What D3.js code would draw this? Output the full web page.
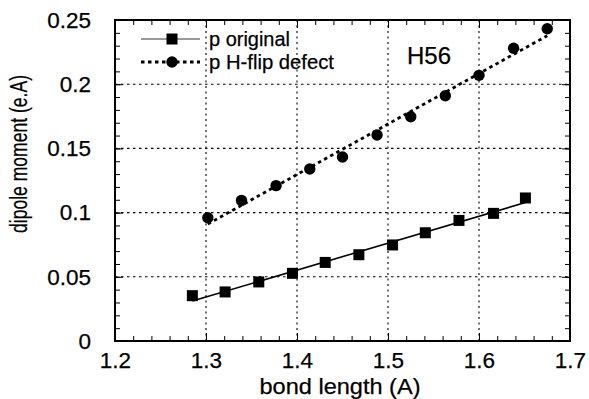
<!DOCTYPE html>
<html>
<head>
<meta charset="utf-8">
<script src="https://cdn.jsdelivr.net/npm/d3@7"></script>
<style>
  html, body { margin: 0; padding: 0; background: #fff; }
  svg text { font-family: "Liberation Sans", Arial, Helvetica, sans-serif; fill: #000; stroke: #000; stroke-width: 0.25; }
</style>
</head>
<body>
<svg id="chart" width="589" height="399"></svg>
<script>
// ---- data ----
const originalX = [1.285, 1.321, 1.358, 1.395, 1.431, 1.468, 1.505, 1.541, 1.578, 1.616, 1.651];
const originalY = [0.0353, 0.0382, 0.046, 0.0527, 0.0612, 0.0672, 0.0748, 0.0843, 0.0939, 0.0994, 0.1114];
const defectX = [1.302, 1.339, 1.377, 1.414, 1.450, 1.488, 1.525, 1.563, 1.600, 1.638, 1.675];
const defectY = [0.096, 0.1095, 0.121, 0.134, 0.1433, 0.1604, 0.1747, 0.191, 0.2069, 0.228, 0.2432];
const xTicks = [1.2, 1.3, 1.4, 1.5, 1.6, 1.7];
const yTicks = [0, 0.05, 0.1, 0.15, 0.2, 0.25];
const yTickLabels = ["0", "0.05", "0.1", "0.15", "0.2", "0.25"];
const seriesNames = ["p original", "p H-flip defect"];
const annotation = "H56";
const xTitle = "bond length (A)";
const yTitle = "dipole moment (e.A)";

// ---- layout ----
const L = 115, R = 570, T = 20, B = 341;
const svg = d3.select("#chart");
const x = d3.scaleLinear().domain([1.2, 1.7]).range([L, R]);
const y = d3.scaleLinear().domain([0, 0.25]).range([B, T]);

const xMinor = d3.range(0, 26).map(i => 1.2 + i * 0.02);
const yMinor = d3.range(0, 26).map(i => i * 0.01);

// grid (dotted)
const grid = svg.append("g");
grid.selectAll(".vg").data(xTicks.slice(1, -1)).join("line")
  .attr("x1", d => x(d)).attr("x2", d => x(d)).attr("y1", T).attr("y2", B)
  .attr("stroke", "#000").attr("stroke-width", 1.1).attr("stroke-dasharray", "2,3.5");
grid.selectAll(".hg").data(yTicks.slice(1, -1)).join("line")
  .attr("x1", L).attr("x2", R).attr("y1", d => y(d)).attr("y2", d => y(d))
  .attr("stroke", "#000").attr("stroke-width", 1.1).attr("stroke-dasharray", "2.5,3.5");

// minor ticks on all four sides (inward)
function styleAxis(g) {
  g.select(".domain").remove();
  g.selectAll(".tick line").attr("stroke", "#000").attr("stroke-width", 1);
}
svg.append("g").attr("transform", `translate(0,${B})`)
  .call(d3.axisBottom(x).tickValues(xMinor).tickSize(-5).tickFormat(""))
  .call(styleAxis);
svg.append("g").attr("transform", `translate(0,${T})`)
  .call(d3.axisTop(x).tickValues(xMinor).tickSize(-5).tickFormat(""))
  .call(styleAxis);
svg.append("g").attr("transform", `translate(${L},0)`)
  .call(d3.axisLeft(y).tickValues(yMinor).tickSize(-5).tickFormat(""))
  .call(styleAxis);
svg.append("g").attr("transform", `translate(${R},0)`)
  .call(d3.axisRight(y).tickValues(yMinor).tickSize(-5).tickFormat(""))
  .call(styleAxis);

// major ticks + labels
const xAxis = svg.append("g").attr("transform", `translate(0,${B})`)
  .call(d3.axisBottom(x).tickValues(xTicks).tickSize(-8).tickPadding(11.5).tickFormat(d3.format(".1f")))
  .call(styleAxis);
xAxis.selectAll("text").attr("font-size", 22.5).style("font-family", '"Liberation Sans", Arial, sans-serif');
const yAxis = svg.append("g").attr("transform", `translate(${L},0)`)
  .call(d3.axisLeft(y).tickValues(yTicks).tickSize(-8).tickPadding(24).tickFormat((d, i) => yTickLabels[i]))
  .call(styleAxis);
yAxis.selectAll("text").attr("font-size", 22.5).style("font-family", '"Liberation Sans", Arial, sans-serif');
svg.append("g").attr("transform", `translate(${R},0)`)
  .call(d3.axisRight(y).tickValues(yTicks).tickSize(-8).tickFormat(""))
  .call(styleAxis);
svg.append("g").attr("transform", `translate(0,${T})`)
  .call(d3.axisTop(x).tickValues(xTicks).tickSize(-8).tickFormat(""))
  .call(styleAxis);

// frame
svg.append("rect").attr("x", L).attr("y", T).attr("width", R - L).attr("height", B - T)
  .attr("fill", "none").attr("stroke", "#000").attr("stroke-width", 2);

// least-squares fit lines
function fit(xs, ys) {
  const mx = d3.mean(xs), my = d3.mean(ys);
  const sxy = d3.sum(xs, (v, i) => (v - mx) * (ys[i] - my));
  const sxx = d3.sum(xs, v => (v - mx) * (v - mx));
  const m = sxy / sxx, b = my - m * mx;
  const x0 = d3.min(xs), x1 = d3.max(xs);
  return [[x0, m * x0 + b], [x1, m * x1 + b]];
}
const line = d3.line().x(d => x(d[0])).y(d => y(d[1]));
svg.append("path").attr("d", line(fit(originalX, originalY)))
  .attr("fill", "none").attr("stroke", "#000").attr("stroke-width", 1.6);
svg.append("path").attr("d", line(fit(defectX, defectY)))
  .attr("fill", "none").attr("stroke", "#000").attr("stroke-width", 2.8).attr("stroke-dasharray", "3.5,3.5");

// markers
const sq = 11;
svg.append("g").selectAll("rect").data(originalX).join("rect")
  .attr("x", (d) => x(d) - sq / 2).attr("y", (d, i) => y(originalY[i]) - sq / 2)
  .attr("width", sq).attr("height", sq).attr("fill", "#000");
svg.append("g").selectAll("circle").data(defectX).join("circle")
  .attr("cx", d => x(d)).attr("cy", (d, i) => y(defectY[i])).attr("r", 5.7).attr("fill", "#000");

// legend
const lg = svg.append("g");
lg.append("line").attr("x1", 141).attr("x2", 200).attr("y1", 39).attr("y2", 39)
  .attr("stroke", "#333").attr("stroke-width", 1);
lg.append("rect").attr("x", 172 - sq / 2).attr("y", 39 - sq / 2).attr("width", sq).attr("height", sq).attr("fill", "#000");
lg.append("line").attr("x1", 141).attr("x2", 200).attr("y1", 62).attr("y2", 62)
  .attr("stroke", "#000").attr("stroke-width", 2.8).attr("stroke-dasharray", "3.5,3.5");
lg.append("circle").attr("cx", 172).attr("cy", 62).attr("r", 5.7).attr("fill", "#000");
lg.append("text").attr("x", 209).attr("y", 45.5).attr("font-size", 20.5)
  .attr("textLength", 81).attr("lengthAdjust", "spacingAndGlyphs").text(seriesNames[0]);
lg.append("text").attr("x", 209).attr("y", 69).attr("font-size", 20.5)
  .attr("textLength", 125).attr("lengthAdjust", "spacingAndGlyphs").text(seriesNames[1]);

// annotation
svg.append("text").attr("x", 407).attr("y", 64).attr("font-size", 24)
  .attr("textLength", 44).attr("lengthAdjust", "spacingAndGlyphs").text(annotation);

// axis titles
svg.append("text").attr("x", 340).attr("y", 394).attr("font-size", 22.5).attr("text-anchor", "middle")
  .attr("textLength", 161).attr("lengthAdjust", "spacingAndGlyphs").text(xTitle);
svg.append("text").attr("transform", "translate(27,154) rotate(-90)").attr("font-size", 23.5)
  .attr("text-anchor", "middle").attr("textLength", 158).attr("lengthAdjust", "spacingAndGlyphs").text(yTitle);
</script>
</body>
</html>
